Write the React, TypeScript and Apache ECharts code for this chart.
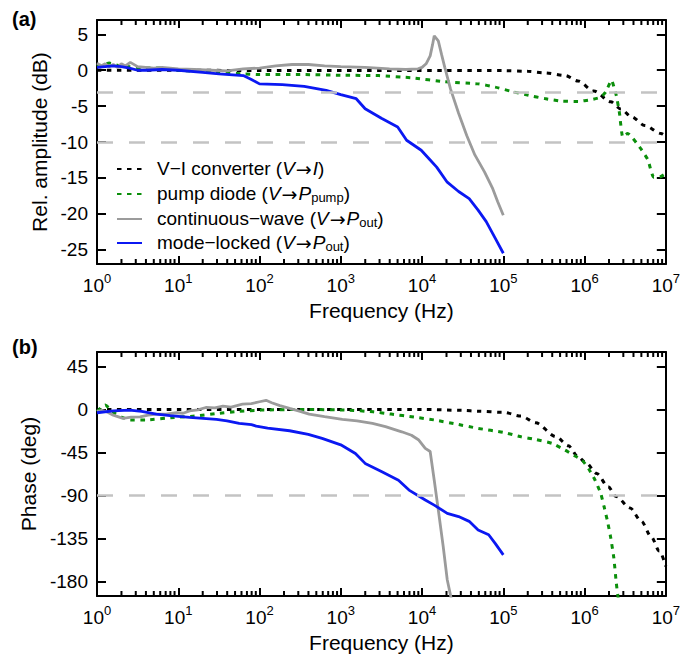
import React, { useEffect, useRef } from 'react';
import * as echarts from 'echarts';

const FONT = '"Liberation Sans", Arial, Helvetica, sans-serif';

// ---- axis ticks ----
const decadeFreqs = [1, 10, 100, 1e3, 1e4, 1e5, 1e6, 1e7];
const minorMultipliers = [2, 3, 4, 5, 6, 7, 8, 9];
const ampTicks = [-25, -20, -15, -10, -5, 0, 5];
const phaseTicks = [-180, -135, -90, -45, 0, 45];
const ampRefLevels = [-3, -10];
const phaseRefLevels = [-90];

// ---- series names ----
const NAME_VI = 'V−I converter (V→I)';
const NAME_PUMP = 'pump diode (V→Ppump)';
const NAME_CW = 'continuous−wave (V→Pout)';
const NAME_ML = 'mode−locked (V→Pout)';
const seriesNames = [NAME_VI, NAME_PUMP, NAME_CW, NAME_ML];

// ---- (a) amplitude, dB ----
const viAmpFreq = [1, 1e5, 2e5, 3.24e5, 5.75e5, 8.3e5, 1.3e6, 2.1e6, 2.8e6, 3.8e6, 5.5e6, 8.7e6, 1e7];
const viAmpDb = [0, -0.05, -0.15, -0.36, -0.74, -1.5, -2.9, -4.4, -5.4, -6.5, -7.7, -8.8, -9.2];

const pumpAmpFreq = [1, 1.2, 1.41, 1.78, 2.51, 3.98, 6.31, 10, 19.95, 31.6, 63.1, 100, 316, 1000, 2951, 7586, 19050, 48980, 79430, 1.259e5, 2.042e5, 3.236e5, 5.129e5, 8.318e5, 1.202e6, 1.585e6, 1.82e6, 2.138e6, 2.455e6, 2.692e6, 2.951e6, 3.388e6, 4.898e6, 6.026e6, 7.079e6, 8.71e6, 1e7];
const pumpAmpDb = [0.5, 0.8, 1.0, 0.7, 0.5, 0.3, 0.3, 0.0, -0.2, -0.4, -0.5, -0.6, -0.6, -0.7, -0.75, -1.06, -1.6, -1.9, -2.35, -2.95, -3.5, -3.95, -4.3, -4.35, -4.1, -3.75, -3.05, -1.4, -3.5, -6.0, -9.3, -8.8, -10.9, -12.5, -14.9, -14.8, -14.4];

const cwAmpFreq = [1, 1.122, 1.259, 1.413, 1.585, 1.778, 1.995, 2.239, 2.57, 3.162, 3.981, 5.012, 6.31, 10, 15.85, 25.12, 39.81, 63.1, 100, 158.5, 251.2, 398.1, 631, 1000, 1995, 3981, 6310, 8913, 10000, 11220, 12590, 13490, 14130, 15850, 17380, 19050, 22390, 28180, 35480, 44670, 58880, 74130, 85110, 1e5];
const cwAmpDb = [1.0, 0.6, 0.9, 0.5, 0.8, 0.4, 0.9, 0.6, 1.1, 0.5, 0.4, 0.3, 0.4, 0.2, 0.1, 0.0, -0.1, 0.2, 0.3, 0.6, 0.8, 0.8, 0.6, 0.5, 0.4, 0.2, 0.1, 0.2, 0.4, 0.9, 2.0, 3.6, 4.8, 4.1, 2.2, 0.4, -2.6, -6.0, -9.1, -11.8, -14.2, -16.5, -18.3, -20.2];

const mlAmpFreq = [1, 1.259, 1.585, 1.995, 2.512, 3.162, 3.981, 6.31, 10, 19.95, 31.62, 63.1, 79.43, 100, 190.5, 354.8, 660.7, 1000, 1549, 1995, 3162, 5012, 6457, 9772, 12590, 15140, 20420, 28180, 38020, 48980, 61660, 79430, 1e5];
const mlAmpDb = [0.4, 0.5, 0.6, 0.5, 0.3, 0.0, 0.0, 0.1, 0.0, -0.3, -0.5, -0.74, -1.3, -1.9, -2.0, -2.26, -2.8, -3.4, -3.97, -5.36, -6.7, -7.9, -9.76, -11.15, -12.5, -13.5, -15.6, -16.9, -17.9, -19.5, -21.1, -23.4, -25.5];

// ---- (b) phase, deg ----
const viPhFreq = [1, 10000, 31620, 48980, 1e5, 1.66e5, 2.512e5, 4.467e5, 6.31e5, 8.318e5, 1.047e6, 1.413e6, 1.95e6, 2.455e6, 3.631e6, 5.012e6, 6.607e6, 8.318e6, 1e7];
const viPhDeg = [0, 0, -1, -2, -3, -7, -14, -28.6, -38, -49.5, -56, -67, -80.8, -91, -103, -117, -133, -148, -164];

const pumpPhFreq = [1, 1.122, 1.259, 1.585, 1.995, 2.57, 3.981, 8.913, 15.85, 30.2, 56.23, 104.7, 354.8, 1202, 2512, 4169, 7943, 14130, 25120, 48980, 1e5, 1.66e5, 2.512e5, 3.981e5, 5.754e5, 7.413e5, 9.333e5, 1.122e6, 1.349e6, 1.585e6, 1.738e6, 1.905e6, 2.089e6, 2.291e6, 2.455e6, 2.57e6, 2.8e6];
const pumpPhDeg = [-2, 2, 4.5, -3, -8, -11, -11, -8.4, -7, -4.2, -2, -0.7, 0, -0.7, -2.5, -4.9, -8, -11, -15, -19.8, -24, -28.6, -31.5, -35.5, -42.5, -48, -53, -62, -74, -88, -101.7, -116, -133, -155, -181, -195, -215];

const cwPhFreq = [1, 1.148, 1.318, 1.585, 2.089, 2.63, 3.388, 4.266, 5.37, 7.079, 9.55, 11.48, 13.8, 17.38, 21.88, 28.18, 35.48, 44.67, 61.66, 79.43, 100, 120.2, 141.3, 177.8, 234.4, 316.2, 407.4, 631, 1047, 1585, 2455, 3548, 5623, 7413, 9120, 10960, 12590, 14130, 15850, 18200, 20420, 22910];
const cwPhDeg = [-2, -1, -2.5, -6, -9.4, -8, -7.7, -6, -4.9, -5, -3.5, -4, -1.5, -0.5, 2, 1.5, 3.4, 2.5, 5.5, 6, 8, 9.5, 7, 4, 1, -2, -4.9, -7.5, -10.4, -12, -14.6, -18, -23.4, -27, -32, -40.7, -44, -74, -105, -143, -178, -198];

const mlPhFreq = [1, 1.585, 2.512, 3.548, 5.37, 7.943, 13.8, 29.51, 39.81, 56.23, 79.43, 91.2, 125.9, 234.4, 398.1, 588.8, 1000, 1514, 1995, 3162, 5129, 6918, 10960, 14130, 20420, 28180, 38020, 48980, 66070, 79430, 1e5];
const mlPhDeg = [-3.5, -1.5, -0.7, -2, -4.9, -6.5, -8.4, -10.4, -12, -14.6, -16, -17.4, -19.5, -22.3, -26, -30.3, -37, -46, -56.4, -65, -74, -84.3, -94.7, -100, -108.6, -112, -117, -126, -131, -140, -152];

const zip = (f: number[], v: number[]) => f.map((x, i) => [x, v[i]]);

const COLORS: Record<string, string> = {
  [NAME_VI]: '#000000',
  [NAME_PUMP]: '#0b8f0b',
  [NAME_CW]: '#9b9b9b',
  [NAME_ML]: '#0b18f2',
};

const legendRich: Record<string, string> = {
  [NAME_VI]: '{n|V−I converter (}{i|V}{a|→}{i|I}{n|)}',
  [NAME_PUMP]: '{n|pump diode (}{i|V}{a|→}{i|P}{sub|pump}{n|)}',
  [NAME_CW]: '{n|continuous−wave (}{i|V}{a|→}{i|P}{sub|out}{n|)}',
  [NAME_ML]: '{n|mode−locked (}{i|V}{a|→}{i|P}{sub|out}{n|)}',
};

const legendRowTops = [159, 184, 209, 233];

function buildOption() {
  const minorFreqs: number[] = [];
  decadeFreqs.slice(0, -1).forEach((d) => minorMultipliers.forEach((k) => minorFreqs.push(d * k)));

  const tickStyle = () => ({ color: '#000000', width: 2 });
  const frameLine = () => ({ show: true, onZero: false, lineStyle: { color: '#000', width: 2 } });

  const buildX = (g: number) => [
    { type: 'log', logBase: 10, gridIndex: g, min: 1, max: 1e7, show: false },
    {
      type: 'value', gridIndex: g, min: 0, max: 7, interval: 1, position: 'bottom',
      name: 'Frequency (Hz)', nameLocation: 'middle', nameGap: 36,
      nameTextStyle: { fontSize: 21, color: '#000', fontFamily: FONT },
      axisLine: frameLine(),
      axisTick: { show: true, inside: true, length: 8, lineStyle: tickStyle() },
      axisLabel: {
        margin: 11, showMinLabel: true, showMaxLabel: true,
        formatter: (v: number) => `{b|10}{s|${Math.round(v)}}`,
        rich: {
          b: { fontSize: 19, lineHeight: 20, verticalAlign: 'bottom', color: '#000', fontFamily: FONT },
          s: { fontSize: 13, lineHeight: 14, padding: [0, 0, 10, 0], verticalAlign: 'bottom', color: '#000', fontFamily: FONT },
        },
      },
      splitLine: { show: false },
    },
    {
      type: 'value', gridIndex: g, min: 0, max: 7, interval: 1, position: 'top',
      axisLine: frameLine(),
      axisTick: { show: true, inside: true, length: 8, lineStyle: tickStyle() },
      axisLabel: { show: false },
      splitLine: { show: false },
    },
  ];

  const buildY = (g: number, min: number, max: number, ticks: number[], name: string, nameGap: number) => [
    {
      type: 'value', gridIndex: g, min, max, position: 'left',
      name, nameLocation: 'middle', nameGap,
      nameTextStyle: { fontSize: 21, color: '#000', fontFamily: FONT },
      axisLine: frameLine(),
      axisTick: { show: true, inside: true, length: 9, customValues: ticks, lineStyle: tickStyle() },
      axisLabel: { customValues: ticks, fontSize: 19, margin: 9, color: '#000', fontFamily: FONT },
      splitLine: { show: false },
    },
    {
      type: 'value', gridIndex: g, min, max, position: 'right',
      axisLine: frameLine(),
      axisTick: { show: true, inside: true, length: 9, customValues: ticks, lineStyle: tickStyle() },
      axisLabel: { show: false },
      splitLine: { show: false },
    },
  ];

  // minor (2..9 per decade) ticks, placed through the log axis scale
  const minorTickSeries = (xi: number, yi: number, yRef: number, atTop: boolean) => ({
    type: 'custom', xAxisIndex: xi, yAxisIndex: yi, z: 5,
    data: minorFreqs.map((f) => [f, yRef]),
    renderItem: (params: any, api: any) => {
      const cs = params.coordSys;
      const x = api.coord([api.value(0), yRef])[0];
      const y0 = atTop ? cs.y : cs.y + cs.height;
      const y1 = atTop ? cs.y + 5 : cs.y + cs.height - 5;
      return { type: 'line', shape: { x1: x, y1: y0, x2: x, y2: y1 }, style: { stroke: '#000000', lineWidth: 2 } };
    },
  });

  const refLine = (levels: number[]) => ({
    silent: true,
    symbol: ['none', 'none'],
    label: { show: false },
    emphasis: { disabled: true },
    lineStyle: { color: '#c3c3c3', width: 2.7, type: [16, 16] },
    data: levels.map((v) => ({ yAxis: v })),
  });

  const styleFor = (name: string) => {
    const dotted = name === NAME_VI || name === NAME_PUMP;
    return {
      color: COLORS[name],
      lineStyle: { color: COLORS[name], width: dotted ? 3 : 2.8, type: dotted ? [4.5, 5.5] : 'solid' },
      itemStyle: { color: COLORS[name] },
    };
  };

  const mk = (name: string, xi: number, yi: number, data: number[][], extra: any = {}) => ({
    type: 'line', name, xAxisIndex: xi, yAxisIndex: yi, data,
    symbol: 'none', showSymbol: false,
    ...styleFor(name),
    ...extra,
  });

  return {
    animation: false,
    backgroundColor: '#ffffff',
    title: [
      { text: '(a)', left: 12, top: 9, padding: 0, textStyle: { fontSize: 20, fontWeight: 'bold', color: '#000', fontFamily: FONT } },
      { text: '(b)', left: 12, top: 337, padding: 0, textStyle: { fontSize: 20, fontWeight: 'bold', color: '#000', fontFamily: FONT } },
    ],
    grid: [
      { left: 97, right: 15, top: 20, height: 244 },
      { left: 97, right: 15, top: 352, height: 244 },
    ],
    xAxis: [...buildX(0), ...buildX(1)],
    yAxis: [
      ...buildY(0, -27, 7, ampTicks, 'Rel. amplitude (dB)', 47),
      ...buildY(1, -195, 60, phaseTicks, 'Phase (deg)', 58),
    ],
    legend: seriesNames.map((name, i) => ({
      data: [name],
      left: 116,
      top: legendRowTops[i],
      orient: 'vertical',
      padding: 0,
      itemWidth: 25,
      itemHeight: 14,
      itemGap: 0,
      selectedMode: false,
      itemStyle: { opacity: 0, borderWidth: 0 },
      formatter: (n: string) => legendRich[n],
      textStyle: {
        fontSize: 19, color: '#000', fontFamily: FONT, padding: [0, 0, 0, 10],
        rich: {
          n: { fontSize: 19, lineHeight: 20, padding: [0, 0, 1, 0], verticalAlign: 'bottom', color: '#000', fontFamily: FONT },
          i: { fontSize: 19, lineHeight: 20, padding: [0, 0, 1, 0], verticalAlign: 'bottom', fontStyle: 'italic', color: '#000', fontFamily: FONT },
          a: { fontSize: 19, lineHeight: 20, padding: [0, 1, 1, 1], verticalAlign: 'bottom', color: '#000', fontFamily: '"DejaVu Sans", sans-serif' },
          sub: { fontSize: 13, lineHeight: 14, verticalAlign: 'bottom', color: '#000', fontFamily: FONT },
        },
      },
    })),
    series: [
      mk(NAME_VI, 0, 0, zip(viAmpFreq, viAmpDb), { smooth: 0.3, smoothMonotone: 'x', markLine: refLine(ampRefLevels) }),
      mk(NAME_PUMP, 0, 0, zip(pumpAmpFreq, pumpAmpDb), { smooth: 0.15 }),
      mk(NAME_CW, 0, 0, zip(cwAmpFreq, cwAmpDb)),
      mk(NAME_ML, 0, 0, zip(mlAmpFreq, mlAmpDb)),
      mk(NAME_VI, 3, 2, zip(viPhFreq, viPhDeg), { smooth: 0.3, smoothMonotone: 'x', markLine: refLine(phaseRefLevels) }),
      mk(NAME_PUMP, 3, 2, zip(pumpPhFreq, pumpPhDeg), { smooth: 0.15 }),
      mk(NAME_CW, 3, 2, zip(cwPhFreq, cwPhDeg)),
      mk(NAME_ML, 3, 2, zip(mlPhFreq, mlPhDeg)),
      minorTickSeries(0, 0, 0, false),
      minorTickSeries(0, 0, 0, true),
      minorTickSeries(3, 2, 0, false),
      minorTickSeries(3, 2, 0, true),
    ],
  };
}

export default function App() {
  const ref = useRef<HTMLDivElement>(null);
  useEffect(() => {
    if (!ref.current) return;
    const chart = echarts.init(ref.current, undefined, { renderer: 'svg' });
    chart.setOption(buildOption() as any);
    return () => chart.dispose();
  }, []);
  return (
    <div
      ref={ref}
      style={{ position: 'absolute', left: 0, top: 0, width: 683, height: 658 }}
    />
  );
}
